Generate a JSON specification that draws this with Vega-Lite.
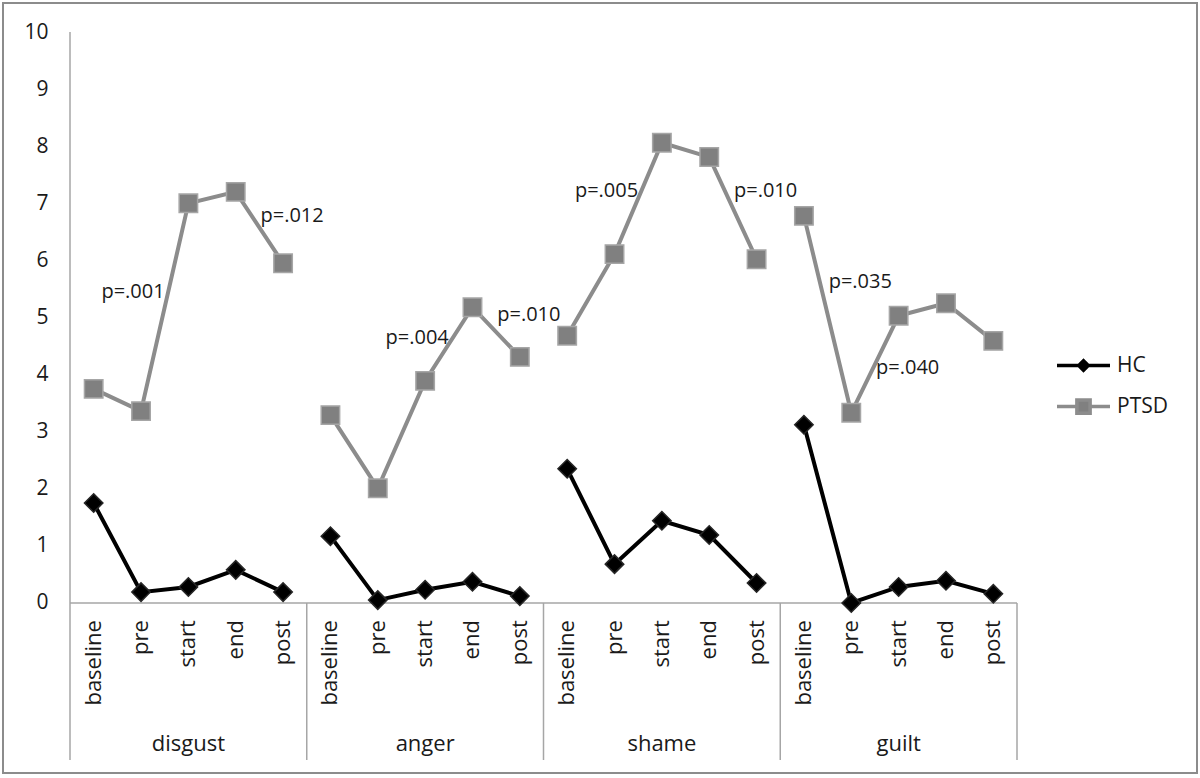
{
  "$schema": "https://vega.github.io/schema/vega-lite/v6.json",
  "width": 1194,
  "height": 770,
  "autosize": {"type": "none"},
  "padding": 3,
  "background": "white",
  "config": {
    "font": "Open Sans",
    "view": {"stroke": "#8c8c8c", "strokeWidth": 2},
    "axisY": {"offset": -67, "domain": false, "ticks": false, "grid": false, "labelPadding": 22, "labelFontSize": 21, "labelColor": "#1a1a1a", "labelFont": "Open Sans"}
  },
  "datasets": {
    "scores": [
      {"emotion": "disgust", "time": "baseline", "group": "HC", "value": 1.75},
      {"emotion": "disgust", "time": "pre", "group": "HC", "value": 0.19},
      {"emotion": "disgust", "time": "start", "group": "HC", "value": 0.28},
      {"emotion": "disgust", "time": "end", "group": "HC", "value": 0.58},
      {"emotion": "disgust", "time": "post", "group": "HC", "value": 0.19},
      {"emotion": "anger", "time": "baseline", "group": "HC", "value": 1.17},
      {"emotion": "anger", "time": "pre", "group": "HC", "value": 0.05},
      {"emotion": "anger", "time": "start", "group": "HC", "value": 0.23},
      {"emotion": "anger", "time": "end", "group": "HC", "value": 0.37},
      {"emotion": "anger", "time": "post", "group": "HC", "value": 0.12},
      {"emotion": "shame", "time": "baseline", "group": "HC", "value": 2.35},
      {"emotion": "shame", "time": "pre", "group": "HC", "value": 0.68},
      {"emotion": "shame", "time": "start", "group": "HC", "value": 1.44},
      {"emotion": "shame", "time": "end", "group": "HC", "value": 1.19},
      {"emotion": "shame", "time": "post", "group": "HC", "value": 0.35},
      {"emotion": "guilt", "time": "baseline", "group": "HC", "value": 3.12},
      {"emotion": "guilt", "time": "pre", "group": "HC", "value": 0.0},
      {"emotion": "guilt", "time": "start", "group": "HC", "value": 0.28},
      {"emotion": "guilt", "time": "end", "group": "HC", "value": 0.39},
      {"emotion": "guilt", "time": "post", "group": "HC", "value": 0.16},
      {"emotion": "disgust", "time": "baseline", "group": "PTSD", "value": 3.75},
      {"emotion": "disgust", "time": "pre", "group": "PTSD", "value": 3.36},
      {"emotion": "disgust", "time": "start", "group": "PTSD", "value": 7.0},
      {"emotion": "disgust", "time": "end", "group": "PTSD", "value": 7.2},
      {"emotion": "disgust", "time": "post", "group": "PTSD", "value": 5.95},
      {"emotion": "anger", "time": "baseline", "group": "PTSD", "value": 3.29},
      {"emotion": "anger", "time": "pre", "group": "PTSD", "value": 2.01},
      {"emotion": "anger", "time": "start", "group": "PTSD", "value": 3.89},
      {"emotion": "anger", "time": "end", "group": "PTSD", "value": 5.18},
      {"emotion": "anger", "time": "post", "group": "PTSD", "value": 4.31},
      {"emotion": "shame", "time": "baseline", "group": "PTSD", "value": 4.68},
      {"emotion": "shame", "time": "pre", "group": "PTSD", "value": 6.11},
      {"emotion": "shame", "time": "start", "group": "PTSD", "value": 8.06},
      {"emotion": "shame", "time": "end", "group": "PTSD", "value": 7.81},
      {"emotion": "shame", "time": "post", "group": "PTSD", "value": 6.02},
      {"emotion": "guilt", "time": "baseline", "group": "PTSD", "value": 6.78},
      {"emotion": "guilt", "time": "pre", "group": "PTSD", "value": 3.33},
      {"emotion": "guilt", "time": "start", "group": "PTSD", "value": 5.03},
      {"emotion": "guilt", "time": "end", "group": "PTSD", "value": 5.25},
      {"emotion": "guilt", "time": "post", "group": "PTSD", "value": 4.59}
    ],
    "annotations": [
      {"emotion": "disgust", "time": "pre", "label": "p=.001", "value": 5.45},
      {"emotion": "disgust", "time": "post", "label": "p=.012", "value": 6.78},
      {"emotion": "anger", "time": "start", "label": "p=.004", "value": 4.64},
      {"emotion": "anger", "time": "post", "label": "p=.010", "value": 5.04},
      {"emotion": "shame", "time": "pre", "label": "p=.005", "value": 7.22},
      {"emotion": "shame", "time": "post", "label": "p=.010", "value": 7.22},
      {"emotion": "guilt", "time": "pre", "label": "p=.035", "value": 5.62},
      {"emotion": "guilt", "time": "start", "label": "p=.040", "value": 4.12}
    ]
  },
  "data": {"name": "scores"},
  "transform": [{"calculate": "datum.emotion + '|' + datum.time", "as": "key"}],
  "encoding": {
    "x": {
      "field": "key",
      "type": "nominal",
      "sort": ["disgust|baseline", "disgust|pre", "disgust|start", "disgust|end", "disgust|post", "anger|baseline", "anger|pre", "anger|start", "anger|end", "anger|post", "shame|baseline", "shame|pre", "shame|start", "shame|end", "shame|post", "guilt|baseline", "guilt|pre", "guilt|start", "guilt|end", "guilt|post"],
      "scale": {
        "type": "band",
        "domain": ["disgust|baseline", "disgust|pre", "disgust|start", "disgust|end", "disgust|post", "anger|baseline", "anger|pre", "anger|start", "anger|end", "anger|post", "shame|baseline", "shame|pre", "shame|start", "shame|end", "shame|post", "guilt|baseline", "guilt|pre", "guilt|start", "guilt|end", "guilt|post"],
        "paddingInner": 0,
        "paddingOuter": 0,
        "range": [67, 1014]
      },
      "axis": null
    }
  },
  "layer": [
    {
      "data": {"values": [{}]},
      "mark": {"type": "rule", "color": "#a6a6a6", "strokeWidth": 1.5},
      "encoding": {
        "x": {"datum": "disgust|baseline", "bandPosition": 0},
        "y": {"datum": -2.75, "type": "quantitative"},
        "y2": {"datum": 10}
      }
    },
    {
      "data": {"values": [{}]},
      "mark": {"type": "rule", "color": "#a6a6a6", "strokeWidth": 1.5},
      "encoding": {
        "x": {"datum": "disgust|baseline", "bandPosition": 0},
        "x2": {"datum": "guilt|post", "bandPosition": 1},
        "y": {"datum": 0, "type": "quantitative"}
      }
    },
    {
      "data": {"values": [{"edge": "anger|baseline"}, {"edge": "shame|baseline"}, {"edge": "guilt|baseline"}]},
      "mark": {"type": "rule", "color": "#a6a6a6", "strokeWidth": 1.5},
      "encoding": {
        "x": {"field": "edge", "type": "nominal", "bandPosition": 0},
        "y": {"datum": -2.75, "type": "quantitative"},
        "y2": {"datum": 0}
      }
    },
    {
      "data": {"values": [{"edge": "guilt|post"}]},
      "mark": {"type": "rule", "color": "#a6a6a6", "strokeWidth": 1.5},
      "encoding": {
        "x": {"field": "edge", "type": "nominal", "bandPosition": 1},
        "y": {"datum": -2.75, "type": "quantitative"},
        "y2": {"datum": 0}
      }
    },
    {
      "mark": {"type": "line", "strokeWidth": 4},
      "encoding": {
        "y": {
          "field": "value",
          "type": "quantitative",
          "title": null,
          "scale": {"domain": [-2.978, 10.508], "zero": false, "nice": false},
          "axis": {"values": [0, 1, 2, 3, 4, 5, 6, 7, 8, 9, 10], "format": "d"}
        },
        "detail": {"field": "emotion"},
        "color": {
          "field": "group",
          "type": "nominal",
          "scale": {"domain": ["HC", "PTSD"], "range": ["#000000", "#8c8c8c"]},
          "legend": {
            "title": null,
            "orient": "none",
            "legendX": 1052,
            "legendY": 334,
            "labelFontSize": 21,
            "labelColor": "#1a1a1a",
            "labelOffset": 5,
            "symbolSize": 2809,
            "rowPadding": -5,
            "symbolStrokeWidth": 3.5,
            "encode": {
              "symbols": {
                "update": {
                  "shape": {"signal": "datum.value === 'HC' ? 'M-1,0L-0.18,0M0.18,0L1,0M0,-0.18L0.18,0L0,0.18L-0.18,0Z' : 'M-1,0L-0.25,0M0.25,0L1,0M-0.25,-0.25L0.25,-0.25L0.25,0.25L-0.25,0.25Z'"},
                  "fill": {"signal": "datum.value === 'HC' ? '#000000' : '#808080'"},
                  "stroke": {"signal": "datum.value === 'HC' ? '#000000' : '#8c8c8c'"},
                  "strokeWidth": {"value": 3.5},
                  "opacity": {"value": 1}
                }
              }
            }
          }
        }
      }
    },
    {
      "transform": [{"filter": "datum.group === 'PTSD'"}],
      "mark": {"type": "point", "shape": "square", "filled": true, "size": 340, "fill": "#808080", "stroke": "#a6a6a6", "strokeWidth": 1.5, "opacity": 1},
      "encoding": {
        "y": {"field": "value", "type": "quantitative"}
      }
    },
    {
      "transform": [{"filter": "datum.group === 'HC'"}],
      "mark": {"type": "point", "shape": "diamond", "filled": true, "size": 340, "fill": "#000000", "stroke": "#262626", "strokeWidth": 1.5, "opacity": 1},
      "encoding": {
        "y": {"field": "value", "type": "quantitative"}
      }
    },
    {
      "transform": [{"filter": "datum.group === 'HC'"}],
      "mark": {"type": "text", "angle": 270, "align": "right", "baseline": "middle", "fontSize": 22, "color": "#1a1a1a"},
      "encoding": {
        "y": {"datum": -0.3, "type": "quantitative"},
        "text": {"field": "time"}
      }
    },
    {
      "transform": [{"filter": "datum.group === 'HC' && datum.time === 'start'"}],
      "mark": {"type": "text", "align": "center", "baseline": "middle", "fontSize": 22, "color": "#1a1a1a"},
      "encoding": {
        "y": {"datum": -2.47, "type": "quantitative"},
        "text": {"field": "emotion"}
      }
    },
    {
      "data": {"name": "annotations"},
      "transform": [
        {"calculate": "datum.emotion + '|' + datum.time", "as": "key"},
        {"filter": {"field": "label", "oneOf": ["p=.001", "p=.004", "p=.005"]}}
      ],
      "mark": {"type": "text", "align": "center", "baseline": "middle", "fontSize": 20, "color": "#1a1a1a", "dx": -8},
      "encoding": {
        "y": {"field": "value", "type": "quantitative"},
        "text": {"field": "label"}
      }
    },
    {
      "data": {"name": "annotations"},
      "transform": [
        {"calculate": "datum.emotion + '|' + datum.time", "as": "key"},
        {"filter": {"not": {"field": "label", "oneOf": ["p=.001", "p=.004", "p=.005"]}}}
      ],
      "mark": {"type": "text", "align": "center", "baseline": "middle", "fontSize": 20, "color": "#1a1a1a", "dx": 9},
      "encoding": {
        "y": {"field": "value", "type": "quantitative"},
        "text": {"field": "label"}
      }
    }
  ]
}
